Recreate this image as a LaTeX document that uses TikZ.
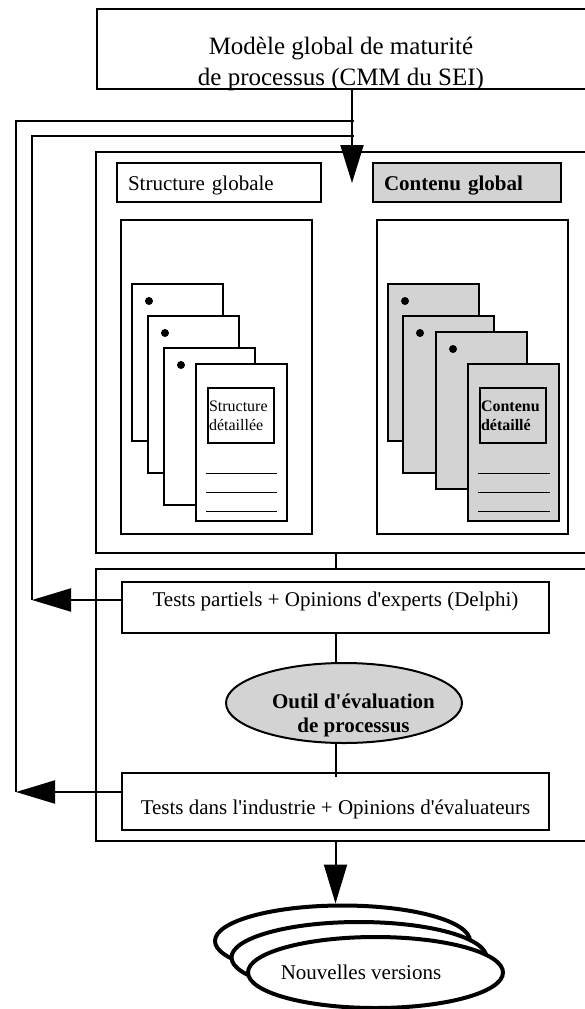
\documentclass[tikz,border=0pt]{standalone}
\usepackage{fontspec}
\setmainfont{Liberation Serif}
\usetikzlibrary{arrows.meta,shapes.geometric}
\definecolor{panelgray}{RGB}{211,211,211}
\newcommand{\apos}{\textquotesingle}

\begin{document}
\begin{tikzpicture}[x=1pt,y=-1pt,line width=2pt,
        panel/.style={draw,rectangle,inner sep=0pt},
        sheet/.style={draw,rectangle,inner sep=0pt,anchor=north west,minimum width=91pt,minimum height=157pt},
        detailbox/.style={draw,rectangle,anchor=north west,minimum width=66pt,minimum height=55pt,text width=64pt,inner xsep=1pt,inner ysep=0pt,align=left,font=\fontsize{16}{19}\selectfont},
        toptext/.style={font=\fontsize{25}{31}\selectfont},
        plain/.style={font=\fontsize{21}{24}\selectfont},
        feedback/.style={-{Triangle[length=39pt,width=23pt]}},
        bullet/.style={fill,circle,inner sep=0pt,minimum size=8pt},
        blankline/.style={line width=1pt},
        version/.style={draw,ellipse,fill=white,line width=4pt,inner sep=0pt,minimum width=255pt,minimum height=71pt}]
        \useasboundingbox (0,0) rectangle (585,1009);

        \node[panel,minimum width=493pt,minimum height=80pt] (model) at (343.5,49) {};
        \node[toptext,align=center,inner sep=0pt] (modeltext) at (341,63.5)
        {Modèle global de maturité\\de processus (CMM du SEI)};

        \node[panel,minimum width=494pt,minimum height=401pt] (globalbox) at (343,352.5) {};
        \node[panel,plain,text width=182pt,inner xsep=11pt,text height=27pt,text depth=12pt,align=left] (structglobal) at (219,182.5) {Structure globale};
        \node[panel,plain,fill=panelgray,text width=166pt,inner xsep=11pt,text height=27pt,text depth=12pt,align=left] (contentglobal) at (467,182.5) {\bfseries Contenu global};

        \node[panel,minimum width=191pt,minimum height=314pt] (structframe) at (216.5,377) {};
        \node[panel,minimum width=191pt,minimum height=314pt] (contentframe) at (472.5,377) {};

        \node[sheet,fill=white] (sp1) at (131,283) {};
        \node[bullet] (sd1) at ([shift={(18,18)}]sp1.north west) {};
        \node[sheet,fill=white] (sp2) at (147,315) {};
        \node[bullet] (sd2) at ([shift={(18,18)}]sp2.north west) {};
        \node[sheet,fill=white] (sp3) at (163,347) {};
        \node[bullet] (sd3) at ([shift={(18,18)}]sp3.north west) {};
        \node[sheet,fill=white] (sp4) at (195,363) {};
        \node[detailbox,fill=white] (sdetail) at ([shift={(12,24)}]sp4.north west) {Structure\\détaillée};
        \draw[blankline] ([shift={(11,110)}]sp4.north west) -- ++(71,0);
        \draw[blankline] ([shift={(11,129)}]sp4.north west) -- ++(71,0);
        \draw[blankline] ([shift={(11,148)}]sp4.north west) -- ++(71,0);

        \node[sheet,fill=panelgray] (cp1) at (387,283) {};
        \node[bullet] (cd1) at ([shift={(18,18)}]cp1.north west) {};
        \node[sheet,fill=panelgray] (cp2) at (402,315) {};
        \node[bullet] (cd2) at ([shift={(18,18)}]cp2.north west) {};
        \node[sheet,fill=panelgray] (cp3) at (435,331) {};
        \node[bullet] (cd3) at ([shift={(18,18)}]cp3.north west) {};
        \node[sheet,fill=panelgray] (cp4) at (467,363) {};
        \node[detailbox,fill=panelgray,font=\fontsize{16}{19}\selectfont\bfseries] (cdetail) at ([shift={(12,24)}]cp4.north west) {Contenu\\détaillé};
        \draw[blankline] ([shift={(11,110)}]cp4.north west) -- ++(72,0);
        \draw[blankline] ([shift={(11,129)}]cp4.north west) -- ++(72,0);
        \draw[blankline] ([shift={(11,148)}]cp4.north west) -- ++(72,0);

        \coordinate (inlet) at (352,183);
        \draw[-{Triangle[length=38pt,width=23pt]}] (model.south -| inlet) -- (inlet);

        \node[panel,minimum width=494pt,minimum height=272pt] (testbox) at (343,705) {};
        \node[panel,plain,minimum width=427pt,text height=24pt,text depth=27pt] (partial) at (335.5,607.5) {Tests partiels + Opinions d\apos experts (Delphi)};
        \node[draw,ellipse,fill=panelgray,inner sep=0pt,minimum width=236pt,minimum height=80pt] (tool) at (344,703) {};
        \node[font=\fontsize{21}{24}\selectfont\bfseries,align=center,inner sep=0pt] (tooltext) at ([shift={(9.5,12)}]tool.center)
        {Outil d\apos évaluation\\de processus};
        \node[panel,plain,minimum width=427pt,text height=41pt,text depth=16pt] (industry) at (335.5,801.5) {Tests dans l\apos industrie + Opinions d\apos évaluateurs};

        \draw (partial.north |- globalbox.south) -- (partial.north |- testbox.north);
        \draw (partial.south) -- (partial.south |- tool.north);
        \draw (tool.south -| partial.south) -- ([yshift=-5pt]industry.north);

        \coordinate (partialfb) at (32,600);
        \coordinate (industryfb) at (16,792);
        \coordinate (innerjoin) at (354,136);
        \coordinate (outerjoin) at (354,121);
        \draw[feedback] (partial.west |- partialfb) -- (partialfb);
        \draw (partialfb) |- (innerjoin);
        \draw[feedback] (industry.west |- industryfb) -- (industryfb);
        \draw (industryfb) |- (outerjoin);

        \node[version] (v1) at (342.5,941) {};
        \node[version] (v2) at (359,957.5) {};
        \node[version] (v3) at (375.5,972.5) {};
        \node[plain] (vtext) at (361,972) {Nouvelles versions};
        \draw[feedback] (industry.south |- testbox.south) -- (industry.south |- v1.north);
\end{tikzpicture}
\end{document}
